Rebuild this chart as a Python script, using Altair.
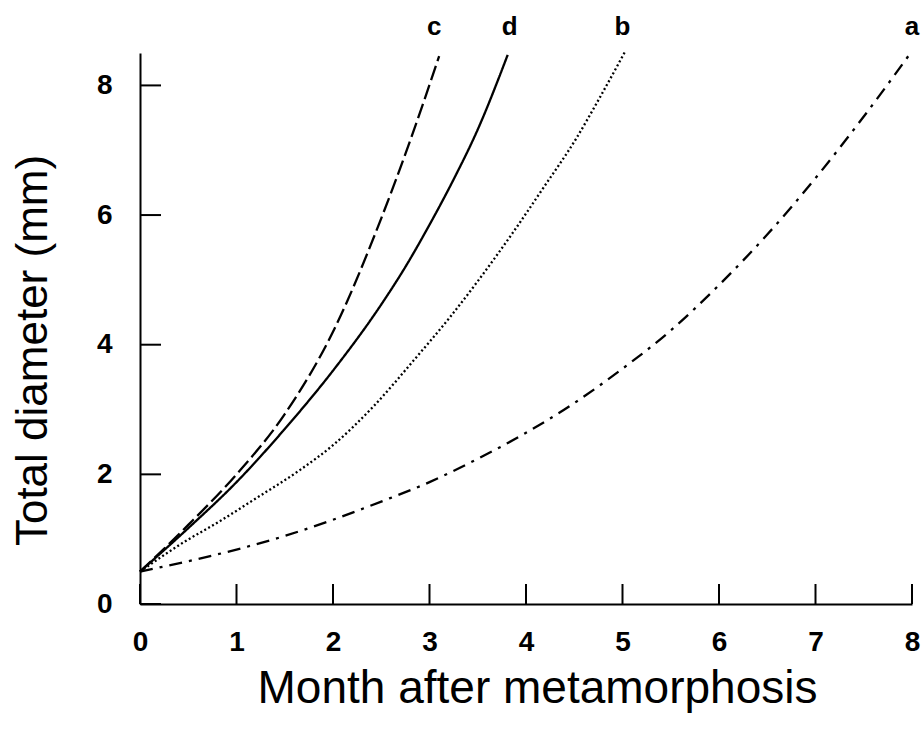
import altair as alt
import pandas as pd

# ---- data ----
a_month = [0, 0.5, 1.0, 1.5, 2.0, 2.5, 3.0, 3.5, 4.0, 4.5, 5.0, 5.5, 6.0, 6.5, 7.0, 7.5, 8.0]
a_diam  = [0.5, 0.66, 0.84, 1.05, 1.3, 1.58, 1.88, 2.24, 2.64, 3.1, 3.63, 4.22, 4.92, 5.7, 6.57, 7.52, 8.53]

b_month = [0, 0.45, 0.83, 1.17, 1.66, 2.0, 2.42, 2.86, 3.21, 3.5, 3.86, 4.18, 4.52, 4.76, 5.03]
b_diam  = [0.5, 0.95, 1.28, 1.6, 2.07, 2.45, 3.05, 3.8, 4.42, 4.98, 5.72, 6.42, 7.18, 7.8, 8.53]

c_month = [0, 0.5, 1.0, 1.5, 2.0, 2.5, 2.8, 3.1]
c_diam  = [0.5, 1.22, 2.0, 2.93, 4.2, 5.95, 7.15, 8.45]

d_month = [0, 0.5, 1.0, 1.5, 2.0, 2.5, 2.75, 3.0, 3.25, 3.5, 3.81]
d_diam  = [0.5, 1.17, 1.88, 2.7, 3.6, 4.62, 5.2, 5.85, 6.55, 7.32, 8.47]

curve_names = ["a", "b", "c", "d"]
label_month = [8.0, 5.0, 3.05, 3.83]
label_diam  = [8.9, 8.9, 8.9, 8.9]

x_ticks = [0, 1, 2, 3, 4, 5, 6, 7, 8]
y_ticks = [0, 2, 4, 6, 8]

# ---- build tables ----
rows = []
for name, ms, ds in zip(curve_names, [a_month, b_month, c_month, d_month],
                        [a_diam, b_diam, c_diam, d_diam]):
    for m, d in zip(ms, ds):
        rows.append({"curve": name, "month": m, "diam": d})
df = pd.DataFrame(rows)
lab = pd.DataFrame({"curve": curve_names, "month": label_month, "diam": label_diam})
xt = pd.DataFrame({"month": x_ticks})
yt = pd.DataFrame({"diam": y_ticks})

W, H = 772, 551
xscale = alt.Scale(domain=[0, 8], nice=False, zero=False)
yscale = alt.Scale(domain=[0, 8.5], nice=False, zero=False)

dash_scale = alt.Scale(
    domain=curve_names,
    range=[[13, 7, 3, 7], [2, 2.5], [15, 5], [1, 0]],
)

x_axis = alt.Axis(
    values=x_ticks, format="d", ticks=False, grid=False, labelFlush=False,
    domainColor="black", domainWidth=2,
    labelFont="Liberation Sans", labelFontWeight="bold", labelFontSize=28,
    labelColor="black", labelPadding=24,
    title="Month after metamorphosis", titleFont="Liberation Sans",
    titleFontWeight="normal", titleFontSize=46, titleColor="black",
    titleX=397, titleY=98, titleAlign="center", titleBaseline="alphabetic",
)
y_axis = alt.Axis(
    values=y_ticks, format="d", ticks=False, grid=False, labelFlush=False,
    domainColor="black", domainWidth=2,
    labelFont="Liberation Sans", labelFontWeight="bold", labelFontSize=28,
    labelColor="black", labelPadding=28,
    title="Total diameter (mm)", titleFont="Liberation Sans",
    titleFontWeight="normal", titleFontSize=44, titleColor="black",
    titleAngle=270, titleX=-107, titleY=297, titleAlign="center",
    titleBaseline="middle",
)

lines = alt.Chart(df).mark_line(
    color="black", strokeWidth=2.3, clip=False, interpolate="monotone"
).encode(
    x=alt.X("month:Q", scale=xscale, axis=x_axis),
    y=alt.Y("diam:Q", scale=yscale, axis=y_axis),
    strokeDash=alt.StrokeDash("curve:N", scale=dash_scale, legend=None),
    detail="curve:N",
)

xticks = alt.Chart(xt).mark_rule(color="black", strokeWidth=2).encode(
    x=alt.X("month:Q", scale=xscale),
    y=alt.value(H - 20),
    y2=alt.value(H),
)
yticks = alt.Chart(yt).mark_rule(color="black", strokeWidth=2).encode(
    y=alt.Y("diam:Q", scale=yscale),
    x=alt.value(0),
    x2=alt.value(21),
)

labels = alt.Chart(lab).mark_text(
    font="Liberation Sans", fontWeight="bold", fontSize=26, color="black",
    align="center", baseline="middle", clip=False,
).encode(
    x=alt.X("month:Q", scale=xscale),
    y=alt.Y("diam:Q", scale=yscale),
    text="curve:N",
)

chart = alt.layer(lines, xticks, yticks, labels).properties(
    width=W, height=H,
    autosize=alt.AutoSizeParams(type="none"),
    padding={"left": 140, "top": 53, "right": 11, "bottom": 128},
    background="white",
).configure_view(stroke=None)

chart.save("out.html", embed_options={"renderer": "svg", "actions": False})
